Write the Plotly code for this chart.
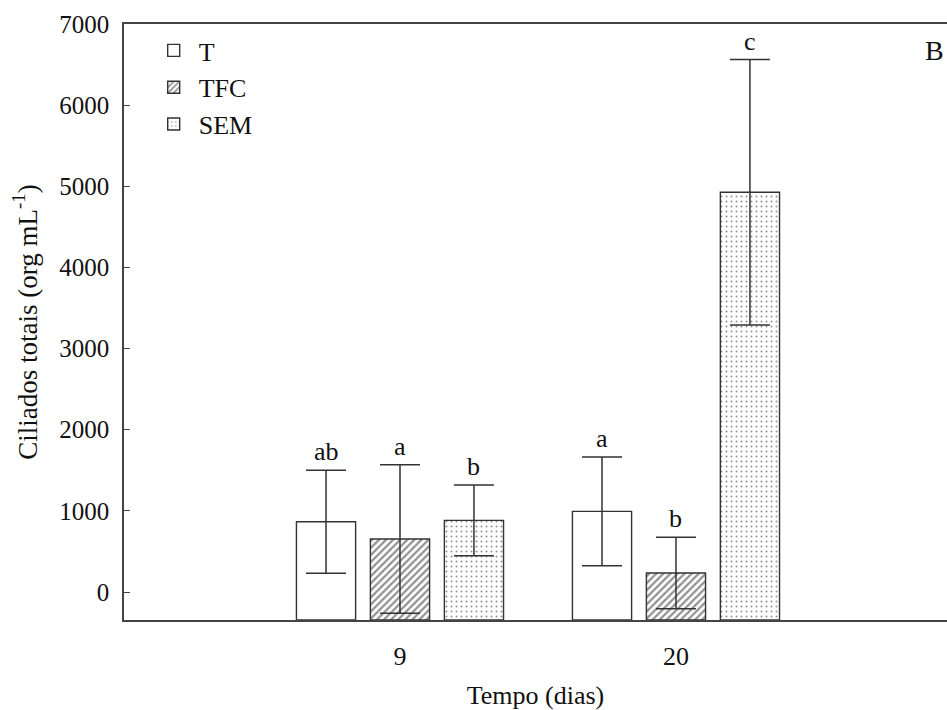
import plotly.graph_objects as go

days = ["9", "20"]
series = ["T", "TFC", "SEM"]
means = {"T": [866, 994], "TFC": [653, 234], "SEM": [883, 4926]}
errs = {"T": [635, 670], "TFC": [914, 441], "SEM": [436, 1635]}
letters = {"T": ["ab", "a"], "TFC": ["a", "b"], "SEM": ["b", "c"]}
yticks = [0, 1000, 2000, 3000, 4000, 5000, 6000, 7000]
Y_MIN, Y_MAX = -345, 7000

patterns = {
    "T": dict(shape=""),
    "TFC": dict(shape="/", fgcolor="#222222", bgcolor="white", size=5, solidity=0.45),
    "SEM": dict(shape=".", fgcolor="#222222", bgcolor="white", size=5, solidity=0.12),
}

FONT = "Times New Roman, Liberation Serif, serif"
INK = "#111111"
fig = go.Figure()
for s in series:
    fig.add_trace(go.Bar(
        name=s, x=days, y=[m - Y_MIN for m in means[s]], base=[Y_MIN] * len(days),
        marker=dict(color="white", line=dict(color="#333333", width=1.4), pattern=patterns[s]),
        error_y=dict(type="data", array=errs[s], visible=True, color="#333333", thickness=1.5, width=20),
        offsetgroup=s,
    ))

# letters above error bars
offsets = {"T": -0.268, "TFC": 0.0, "SEM": 0.268}
for s in series:
    for i, d in enumerate(days):
        fig.add_annotation(
            x=i + offsets[s], y=means[s][i] + errs[s][i], xref="x", yref="y",
            text=letters[s][i], showarrow=False, yanchor="bottom", yshift=2,
            font=dict(family=FONT, size=26, color=INK),
        )

fig.add_annotation(x=0.999, y=0.955, xref="paper", yref="paper", text="B", showarrow=False,
                   xanchor="right", yanchor="middle", font=dict(family=FONT, size=28, color=INK))

fig.update_layout(
    width=947, height=710,
    margin=dict(l=124, r=0, t=24, b=90),
    paper_bgcolor="white", plot_bgcolor="white",
    barmode="group", bargap=0.196, bargroupgap=0.2,
    font=dict(family=FONT, size=24, color=INK),
    showlegend=True,
    legend=dict(x=0.03, y=0.995, xanchor="left", yanchor="top", bgcolor="rgba(0,0,0,0)",
                font=dict(family=FONT, size=26, color=INK), itemwidth=40, tracegroupgap=0),
    xaxis=dict(type="category", range=[-1, 1.982], showline=True, linecolor="#444444", linewidth=1.5,
               mirror=True, ticks="", showgrid=False, ticklabelstandoff=12,
               tickfont=dict(family=FONT, size=26, color=INK),
               title=dict(text="Tempo (dias)", standoff=18, font=dict(family=FONT, size=26, color=INK))),
    yaxis=dict(range=[Y_MIN, Y_MAX], tickvals=yticks, showline=True, linecolor="#444444", linewidth=1.5,
               ticks="inside", ticklen=6, tickcolor="#444444", showgrid=False, zeroline=False,
               ticklabelstandoff=8,
               tickfont=dict(family=FONT, size=25, color=INK),
               title=dict(text="Ciliados totais (org mL<sup>-1</sup>)", standoff=14,
                          font=dict(family=FONT, size=27, color=INK))),
)

fig.write_html("out.html")
